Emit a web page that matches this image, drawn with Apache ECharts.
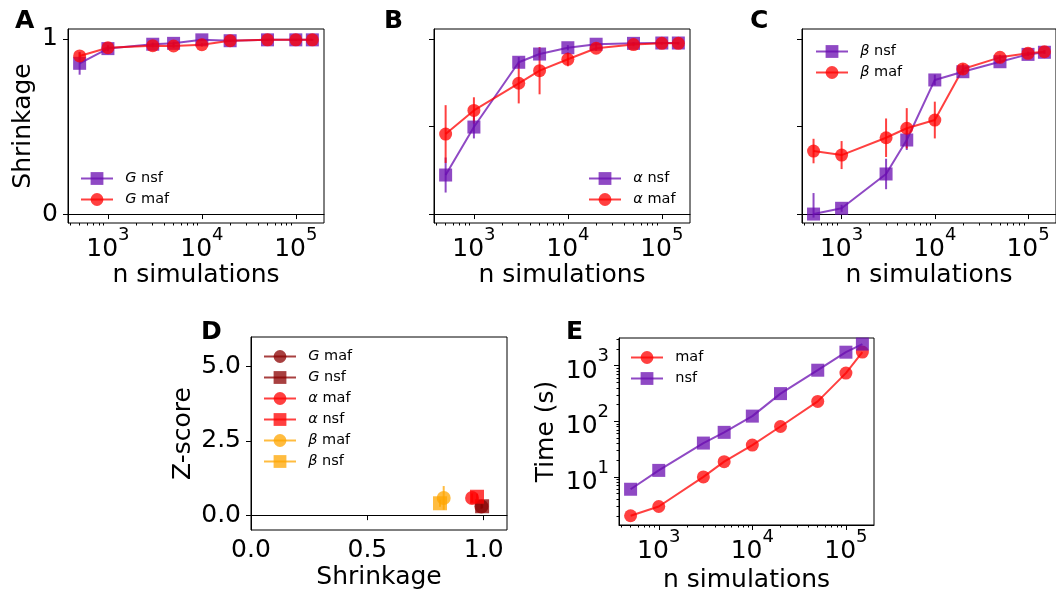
<!DOCTYPE html>
<html><head><meta charset="utf-8">
<script src="https://cdn.jsdelivr.net/npm/echarts@6/dist/echarts.min.js"></script>
<style>html,body{margin:0;padding:0;background:#fff}#c{width:1056px;height:594px}</style>
</head><body><div id="c"></div>
<script>
// ---------------- data ----------------
const nSims = [500, 1000, 3000, 5000, 10000, 20000, 50000, 100000, 150000];
// Panel A : G
const gNsf    = [0.861, 0.945, 0.970, 0.975, 0.995, 0.990, 0.995, 0.995, 0.995];
const gNsfErr = [0.065, 0.015, 0.010, 0.010, 0.005, 0.005, 0.004, 0.004, 0.004];
const gMaf    = [0.903, 0.950, 0.962, 0.960, 0.967, 0.990, 0.995, 0.995, 0.995];
const gMafErr = [0.020, 0.015, 0.010, 0.010, 0.010, 0.005, 0.004, 0.004, 0.004];
// Panel B : alpha
const aNsf    = [0.223, 0.497, 0.867, 0.914, 0.950, 0.970, 0.975, 0.977, 0.977];
const aNsfErr = [0.100, 0.065, 0.030, 0.020, 0.015, 0.010, 0.008, 0.006, 0.006];
const aMaf    = [0.457, 0.592, 0.747, 0.819, 0.884, 0.947, 0.968, 0.975, 0.975];
const aMafErr = [0.165, 0.075, 0.115, 0.135, 0.040, 0.015, 0.010, 0.008, 0.008];
// Panel C : beta
const bNsf      = [0.000, 0.033, 0.229, 0.423, 0.766, 0.813, 0.870, 0.912, 0.924];
const bNsfErrLo = [0.020, 0.020, 0.087, 0.057, 0.030, 0.015, 0.010, 0.010, 0.010];
const bNsfErrHi = [0.120, 0.020, 0.087, 0.067, 0.030, 0.015, 0.010, 0.010, 0.010];
const bMaf      = [0.360, 0.337, 0.436, 0.490, 0.537, 0.829, 0.895, 0.918, 0.927];
const bMafErr   = [0.070, 0.080, 0.110, 0.115, 0.105, 0.030, 0.015, 0.010, 0.010];
// Panel D : z-score vs shrinkage
const dNames  = ['G maf', 'G nsf', 'α maf', 'α nsf', 'β maf', 'β nsf'];
const dShrink = [0.990, 0.993, 0.950, 0.971, 0.828, 0.812];
const dZ      = [0.29, 0.30, 0.58, 0.62, 0.58, 0.40];
const dZErr   = [0.08, 0.06, 0.15, 0.10, 0.40, 0.12];
// Panel E : time
const tMaf = [2.0, 2.94, 10.0, 18.8, 37.4, 80.7, 228, 736, 1760];
const tNsf = [6.0, 13.1, 40.6, 63.3, 124, 315, 830, 1750, 2450];
// ticks
const simTicks = [1000, 10000, 100000];
const timeTicks = [10, 100, 1000];
const shrinkTicksA = [0, 1];
const shrinkTicks = [0, 0.5, 1];
const zTicks = [0, 2.5, 5];
const dXTicks = [0, 0.5, 1.0];

// ---------------- style ----------------
const FONT = 'DejaVu Sans';
const PURPLE = '#6a0cb0', RED = '#ff0000', DARKRED = '#8b0000', ORANGE = '#ffa500';
const ALPHA = 0.75;

function minorLog(lo, hi) {
  const out = [];
  for (let k = Math.floor(Math.log10(lo)); k <= Math.ceil(Math.log10(hi)); k++) {
    for (let m = 2; m <= 9; m++) { const v = m * Math.pow(10, k); if (v > lo && v < hi) out.push(v); }
  }
  return out;
}
const pow10 = v => '{b|10}{s|' + Math.round(Math.log10(v)) + '}';
const powRich = {
  b: { fontSize: 25, fontFamily: FONT, color: '#000', lineHeight: 36, verticalAlign: 'bottom' },
  s: { fontSize: 18, fontFamily: FONT, color: '#000', verticalAlign: 'top' }
};
const nameStyle = { fontSize: 25, fontFamily: FONT, color: '#000' };
const lineBlack = { show: true, lineStyle: { color: '#000', width: 1 } };

const X_MIN = 376, X_MAX = 199600;
function simX(grid, name) {
  return [{
    type: 'log', logBase: 10, gridIndex: grid, min: X_MIN, max: X_MAX, position: 'bottom',
    name: name, nameLocation: 'middle', nameGap: 38, nameTextStyle: nameStyle,
    axisLine: lineBlack, splitLine: { show: false },
    axisTick: { show: true, length: 5, lineStyle: { color: '#000' }, customValues: simTicks },
    axisLabel: { show: true, margin: 3, formatter: pow10, rich: powRich, customValues: simTicks }
  }, {
    type: 'log', logBase: 10, gridIndex: grid, min: X_MIN, max: X_MAX, position: 'bottom', offset: 0,
    axisLine: { show: false }, splitLine: { show: false }, axisLabel: { show: false },
    axisTick: { show: true, length: 2.5, lineStyle: { color: '#000' }, customValues: minorLog(X_MIN, X_MAX) }
  }];
}
function shrinkY(grid, ticks, showLabels, name) {
  return {
    type: 'value', gridIndex: grid, min: -0.051, max: 1.057, position: 'left',
    name: name || '', nameLocation: 'middle', nameGap: 32, nameTextStyle: nameStyle,
    axisLine: lineBlack, splitLine: { show: false },
    axisTick: { show: true, length: 5, lineStyle: { color: '#000' }, customValues: ticks },
    axisLabel: { show: showLabels, margin: 10, fontSize: 25, fontFamily: FONT, color: '#000', customValues: ticks }
  };
}

function lineSeries(name, xi, yi, xs, ys, color, symbol, size) {
  return {
    type: 'line', name: name, xAxisIndex: xi, yAxisIndex: yi,
    data: xs.map((x, i) => [x, ys[i]]), symbol: symbol, symbolSize: size || 13, showSymbol: true,
    color: color, lineStyle: { width: 2, color: color, opacity: ALPHA },
    itemStyle: { color: color, opacity: ALPHA }, emphasis: { disabled: true }, silent: true, animation: false
  };
}
function errSeries(xi, yi, xs, ys, lo, hi, color) {
  return {
    type: 'custom', name: 'err', xAxisIndex: xi, yAxisIndex: yi,
    data: xs.map((x, i) => [x, ys[i], ys[i] - lo[i], ys[i] + hi[i]]),
    renderItem: function (p, api) {
      const a = api.coord([api.value(0), api.value(2)]);
      const b = api.coord([api.value(0), api.value(3)]);
      return { type: 'line', shape: { x1: a[0], y1: a[1], x2: b[0], y2: b[1] },
        style: { stroke: color, lineWidth: 2, opacity: ALPHA } };
    }, silent: true, animation: false
  };
}

// legend labels (unique series names -> displayed rich text)
const labelMap = {
  'G nsf': '{i|G} nsf', 'G maf': '{i|G} maf',
  'α nsf': '{i|α} nsf', 'α maf': '{i|α} maf',
  'β nsf': '{i|β} nsf', 'β maf': '{i|β} maf',
  'maf': 'maf', 'nsf': 'nsf'
};
const SUF = '\u200b';
function legend(names, left, top) {
  return {
    data: names, left: left, top: top, orient: 'vertical', padding: 0,
    itemWidth: 32, itemHeight: 16, itemGap: 6, selectedMode: false,
    textStyle: { fontSize: 14.5, fontFamily: FONT, color: '#000',
      rich: { i: { fontSize: 14.5, fontFamily: FONT, fontStyle: 'italic', color: '#000' } } },
    formatter: n => '\u2002' + labelMap[n.replace(SUF, '')]
  };
}

const xAxes = [].concat(simX(0, 'n simulations'), simX(1, 'n simulations'), simX(2, 'n simulations'));
// D x axis (index 6)
xAxes.push({
  type: 'value', gridIndex: 3, min: 0, max: 1.1, position: 'bottom',
  name: 'Shrinkage', nameLocation: 'middle', nameGap: 35, nameTextStyle: nameStyle,
  axisLine: lineBlack, splitLine: { show: false },
  axisTick: { show: true, length: 5, lineStyle: { color: '#000' }, customValues: dXTicks },
  axisLabel: { margin: 8, fontSize: 25, fontFamily: FONT, color: '#000', formatter: v => v.toFixed(1), customValues: dXTicks }
});
// E x axes (7, 8)
const eX = simX(4, 'n simulations');
eX[0].nameGap = 43;
xAxes.push(eX[0], eX[1]);

const Y_MIN = 1.365, Y_MAX = 3150;
const yAxes = [
  shrinkY(0, shrinkTicksA, true, 'Shrinkage'),
  shrinkY(1, shrinkTicks, false),
  shrinkY(2, shrinkTicks, false),
  {
    type: 'value', gridIndex: 3, min: -0.5, max: 6.0, position: 'left',
    name: 'Z-score', nameLocation: 'middle', nameGap: 55, nameTextStyle: nameStyle,
    axisLine: lineBlack, splitLine: { show: false },
    axisTick: { show: true, length: 5, lineStyle: { color: '#000' }, customValues: zTicks },
    axisLabel: { margin: 10, fontSize: 25, fontFamily: FONT, color: '#000', formatter: v => v.toFixed(1), customValues: zTicks }
  },
  {
    type: 'log', logBase: 10, gridIndex: 4, min: Y_MIN, max: Y_MAX, position: 'left',
    name: 'Time (s)', nameLocation: 'middle', nameGap: 60, nameTextStyle: nameStyle,
    axisLine: lineBlack, splitLine: { show: false },
    axisTick: { show: true, length: 5, lineStyle: { color: '#000' }, customValues: timeTicks },
    axisLabel: { margin: 10, formatter: pow10, rich: powRich, customValues: timeTicks }
  },
  {
    type: 'log', logBase: 10, gridIndex: 4, min: Y_MIN, max: Y_MAX, position: 'left', offset: 0,
    axisLine: { show: false }, splitLine: { show: false }, axisLabel: { show: false },
    axisTick: { show: true, length: 2.5, lineStyle: { color: '#000' }, customValues: minorLog(Y_MIN, Y_MAX) }
  }
];

const gridBase = { show: true, borderColor: '#000', borderWidth: 1, backgroundColor: 'transparent' };
const grids = [
  Object.assign({ left: 68, top: 29, width: 256, height: 194 }, gridBase),
  Object.assign({ left: 434, top: 29, width: 256, height: 194 }, gridBase),
  Object.assign({ left: 802, top: 29, width: 256, height: 194 }, gridBase),
  Object.assign({ left: 251, top: 337, width: 256, height: 193 }, gridBase),
  Object.assign({ left: 619, top: 338, width: 255, height: 192 }, gridBase)
];

const series = [
  errSeries(0, 0, nSims, gNsf, gNsfErr, gNsfErr, PURPLE),
  lineSeries('G nsf', 0, 0, nSims, gNsf, PURPLE, 'rect'),
  errSeries(0, 0, nSims, gMaf, gMafErr, gMafErr, RED),
  lineSeries('G maf', 0, 0, nSims, gMaf, RED, 'circle'),

  errSeries(2, 1, nSims, aNsf, aNsfErr, aNsfErr, PURPLE),
  lineSeries('α nsf', 2, 1, nSims, aNsf, PURPLE, 'rect'),
  errSeries(2, 1, nSims, aMaf, aMafErr, aMafErr, RED),
  lineSeries('α maf', 2, 1, nSims, aMaf, RED, 'circle'),

  errSeries(4, 2, nSims, bNsf, bNsfErrLo, bNsfErrHi, PURPLE),
  lineSeries('β nsf', 4, 2, nSims, bNsf, PURPLE, 'rect'),
  errSeries(4, 2, nSims, bMaf, bMafErr, bMafErr, RED),
  lineSeries('β maf', 4, 2, nSims, bMaf, RED, 'circle'),

  lineSeries('maf', 7, 4, nSims, tMaf, RED, 'circle'),
  lineSeries('nsf', 7, 4, nSims, tNsf, PURPLE, 'rect')
];
const dColors = [DARKRED, DARKRED, RED, RED, ORANGE, ORANGE];
const dSymbols = ['circle', 'rect', 'circle', 'rect', 'circle', 'rect'];
dNames.forEach((n, i) => {
  series.push(errSeries(6, 3, [dShrink[i]], [dZ[i]], [dZErr[i]], [dZErr[i]], dColors[i]));
  series.push(lineSeries(n + SUF, 6, 3, [dShrink[i]], [dZ[i]], dColors[i], dSymbols[i], 14));
});

const panelLabels = ['A', 'B', 'C', 'D', 'E'];
const panelPos = [[15, 22], [384, 22], [750, 22], [201, 333], [566, 333]];
const graphic = panelLabels.map((t, i) => ({
  type: 'text', left: panelPos[i][0], top: panelPos[i][1] - 13,
  style: { text: t, font: 'bold 25px "DejaVu Sans"', fill: '#000' }
}));

const chart = echarts.init(document.getElementById('c'), null, { renderer: 'canvas' });
chart.setOption({
  animation: false,
  backgroundColor: '#fff',
  grid: grids,
  xAxis: xAxes,
  yAxis: yAxes,
  legend: [
    legend(['G nsf', 'G maf'], 80, 171),
    legend(['α nsf', 'α maf'], 588, 171),
    legend(['β nsf', 'β maf'], 815, 44),
    legend(dNames.map(n => n + SUF), 263, 349),
    legend(['maf', 'nsf'], 630, 350)
  ],
  graphic: graphic,
  series: series
});
</script>
</body></html>
